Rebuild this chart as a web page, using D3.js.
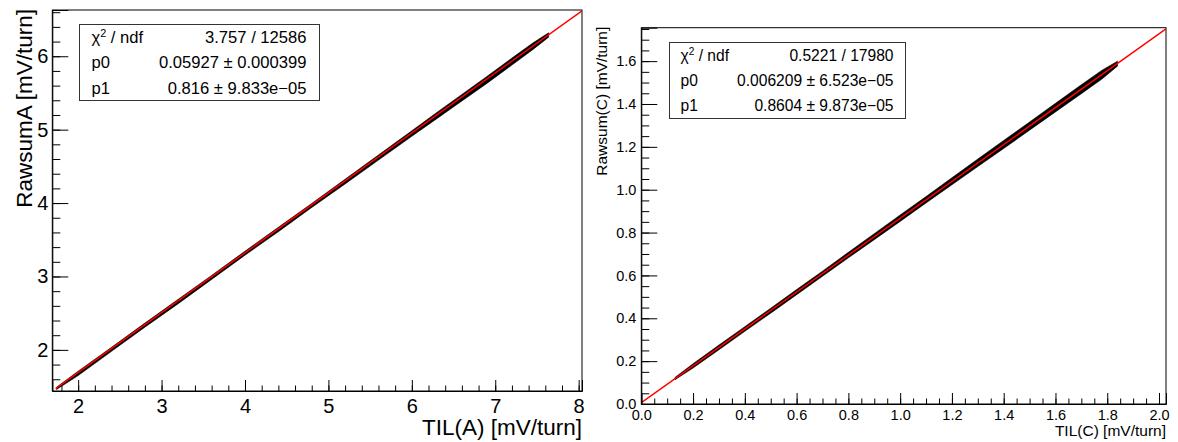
<!DOCTYPE html>
<html>
<head>
<meta charset="utf-8">
<script src="https://cdn.jsdelivr.net/npm/d3@7"></script>
<style>
  html, body { margin: 0; padding: 0; background: #fff; }
  svg { display: block; }
  text { font-family: "Liberation Sans", Arial, Helvetica, sans-serif; fill: #000; }
</style>
</head>
<body>
<svg id="chart" width="1178" height="442"></svg>
<script>
// ---------------- DATA ----------------
// Panel A: band of scatter points (x, lower edge, upper edge)
const tilA      = [1.74, 2.0, 2.4, 2.8, 3.2, 3.6, 4.0, 4.4, 4.8, 5.2, 5.6, 6.0, 6.3, 6.6, 6.9, 7.2, 7.45, 7.64];
const rawsumAHi = [1.49, 1.71, 2.035, 2.365, 2.69, 3.015, 3.345, 3.67, 3.995, 4.325, 4.655, 4.985, 5.235, 5.48, 5.725, 5.975, 6.18, 6.32];
const rawsumALo = [1.46, 1.65, 1.98, 2.31, 2.63, 2.96, 3.29, 3.61, 3.94, 4.26, 4.585, 4.91, 5.15, 5.39, 5.63, 5.88, 6.09, 6.26];
const fitA      = { chi2: "3.757 / 12586", p0: "0.05927 \u00b1 0.000399", p1: "0.816 \u00b1 9.833e\u221205" };
const fitParA   = [0.05927, 0.816];
const fitRangeA = [1.73, 8.04];
const xTicksA   = [2, 3, 4, 5, 6, 7, 8];
const yTicksA   = [2, 3, 4, 5, 6];

// Panel C
const tilC      = [0.13, 0.2, 0.3, 0.4, 0.5, 0.6, 0.7, 0.8, 0.9, 1.0, 1.1, 1.2, 1.3, 1.4, 1.5, 1.6, 1.7, 1.78, 1.84];
const rawsumCHi = [0.124, 0.188, 0.275, 0.361, 0.447, 0.534, 0.620, 0.708, 0.795, 0.882, 0.968, 1.056, 1.143, 1.230, 1.316, 1.403, 1.490, 1.558, 1.60];
const rawsumCLo = [0.113, 0.168, 0.253, 0.339, 0.424, 0.510, 0.596, 0.682, 0.767, 0.852, 0.938, 1.023, 1.108, 1.192, 1.278, 1.363, 1.448, 1.517, 1.577];
const fitC      = { chi2: "0.5221 / 17980", p0: "0.006209 \u00b1 6.523e\u221205", p1: "0.8604 \u00b1 9.873e\u221205" };
const fitParC   = [0.006209, 0.8604];
const fitRangeC = [0.0, 2.027];
const xTicksC   = [0.0, 0.2, 0.4, 0.6, 0.8, 1.0, 1.2, 1.4, 1.6, 1.8, 2.0];
const yTicksC   = [0.0, 0.2, 0.4, 0.6, 0.8, 1.0, 1.2, 1.4, 1.6];

// ---------------- DRAWING ----------------
const svg = d3.select("#chart");
svg.append("rect").attr("width", 1178).attr("height", 442).attr("fill", "#fff");

function panel(cfg) {
  const x = d3.scaleLinear().domain(cfg.xDom).range([cfg.left, cfg.right]);
  const y = d3.scaleLinear().domain(cfg.yDom).range([cfg.bottom, cfg.top]);
  const g = svg.append("g");

  const clipId = "clip" + cfg.id;
  svg.append("clipPath").attr("id", clipId).append("rect")
    .attr("x", cfg.left).attr("y", cfg.top)
    .attr("width", cfg.right - cfg.left).attr("height", cfg.bottom - cfg.top);

  // frame
  g.append("rect").attr("x", cfg.left).attr("y", cfg.top)
    .attr("width", cfg.right - cfg.left).attr("height", cfg.bottom - cfg.top)
    .attr("fill", "none").attr("stroke", "#000").attr("stroke-width", 1);

  // data band
  const band = cfg.xs.map((v, i) => ({ x: v, lo: cfg.lo[i], hi: cfg.hi[i] }));
  g.append("path").datum(band)
    .attr("clip-path", `url(#${clipId})`)
    .attr("d", d3.area().x(d => x(d.x)).y0(d => y(d.lo)).y1(d => y(d.hi)).curve(d3.curveLinear))
    .attr("fill", "#000").attr("stroke", "#000").attr("stroke-width", 0.6);

  // fit line
  const fitPts = cfg.fitRange.map(v => ({ x: v, y: cfg.par[0] + cfg.par[1] * v }));
  g.append("path").datum(fitPts)
    .attr("clip-path", `url(#${clipId})`)
    .attr("d", d3.line().x(d => x(d.x)).y(d => y(d.y)))
    .attr("fill", "none").attr("stroke", "#ff0000").attr("stroke-width", 1.5);

  // axes: minor ticks
  const xMinor = d3.range(cfg.xMinor[0], cfg.xMinor[1] + 1e-9, cfg.xMinor[2]);
  const yMinor = d3.range(cfg.yMinor[0], cfg.yMinor[1] + 1e-9, cfg.yMinor[2]);
  const axMinX = g.append("g").attr("transform", `translate(0,${cfg.bottom})`)
    .call(d3.axisBottom(x).tickValues(xMinor).tickSize(-cfg.xTickLen / 2).tickFormat(""));
  const axMinY = g.append("g").attr("transform", `translate(${cfg.left},0)`)
    .call(d3.axisLeft(y).tickValues(yMinor).tickSize(-cfg.yTickLen / 2).tickFormat(""));
  [axMinX, axMinY].forEach(a => { a.select(".domain").remove(); a.selectAll("line").attr("stroke", "#000"); });

  // major ticks + labels
  const axX = g.append("g").attr("transform", `translate(0,${cfg.bottom})`)
    .call(d3.axisBottom(x).tickValues(cfg.xTicks).tickSize(-cfg.xTickLen).tickPadding(cfg.xPad).tickFormat(cfg.fmt));
  const axY = g.append("g").attr("transform", `translate(${cfg.left},0)`)
    .call(d3.axisLeft(y).tickValues(cfg.yTicks).tickSize(-cfg.yTickLen).tickPadding(cfg.yPad).tickFormat(cfg.fmt));
  [axX, axY].forEach(a => {
    a.select(".domain").attr("stroke", "#000");
    a.selectAll("line").attr("stroke", "#000");
    a.selectAll("text").attr("font-size", cfg.tickFont).attr("font-family", '"Liberation Sans", Arial, sans-serif').attr("fill", "#000");
  });

  // axis titles
  g.append("text").attr("x", cfg.right).attr("y", cfg.xTitleY)
    .attr("text-anchor", "end").attr("font-size", cfg.titleFont).text(cfg.xTitle);
  g.append("text").attr("transform", `translate(${cfg.yTitleX},${cfg.top - 1}) rotate(-90)`)
    .attr("text-anchor", "end").attr("font-size", cfg.titleFont).text(cfg.yTitle);

  // stats box
  const b = cfg.box;
  g.append("rect").attr("x", b.x).attr("y", b.y).attr("width", b.w).attr("height", b.h)
    .attr("fill", "#fff").attr("stroke", "#333").attr("stroke-width", 1);
  const rowH = b.h / 3;
  const rows = [
    { lab: "chi", val: cfg.fit.chi2 },
    { lab: "p0", val: cfg.fit.p0 },
    { lab: "p1", val: cfg.fit.p1 }
  ];
  rows.forEach((r, i) => {
    const cy = b.y + rowH * (i + 0.5) + b.fs * 0.36;
    const t = g.append("text").attr("x", b.x + b.padL).attr("y", cy).attr("font-size", b.fs);
    if (r.lab === "chi") {
      t.append("tspan").text("\u03c7");
      t.append("tspan").attr("font-size", b.fs * 0.65).attr("dy", -b.fs * 0.4).text("2");
      t.append("tspan").attr("dy", b.fs * 0.4).text(" / ndf");
    } else {
      t.text(r.lab);
    }
    g.append("text").attr("x", b.x + b.w - b.padR).attr("y", cy)
      .attr("text-anchor", "end").attr("font-size", b.fs).text(r.val);
  });
}

panel({
  id: "A",
  xDom: [1.69, 8.04], yDom: [1.44, 6.63],
  left: 52.3, right: 582, top: 10, bottom: 391,
  xs: tilA, lo: rawsumALo, hi: rawsumAHi,
  par: fitParA, fitRange: fitRangeA,
  xTicks: xTicksA, yTicks: yTicksA,
  xMinor: [1.8, 8.0, 0.2], yMinor: [1.6, 6.6, 0.2],
  xTickLen: 11, yTickLen: 16,
  xPad: 8, yPad: 4,
  fmt: d3.format("d"),
  tickFont: 20, titleFont: 22.5,
  xTitle: "TIL(A) [mV/turn]", xTitleY: 435,
  yTitle: "RawsumA [mV/turn]", yTitleX: 32,
  fit: fitA,
  box: { x: 79.5, y: 24.5, w: 240, h: 76, fs: 16.6, padL: 12, padR: 13 }
});

panel({
  id: "C",
  xDom: [0, 2.027], yDom: [0, 1.756],
  left: 641.3, right: 1166, top: 27.7, bottom: 404,
  xs: tilC, lo: rawsumCLo, hi: rawsumCHi,
  par: fitParC, fitRange: fitRangeC,
  xTicks: xTicksC, yTicks: yTicksC,
  xMinor: [0.05, 2.0, 0.05], yMinor: [0.05, 1.75, 0.05],
  xTickLen: 11, yTickLen: 16,
  xPad: 6, yPad: 5,
  fmt: d3.format(".1f"),
  tickFont: 14.5, titleFont: 15.5,
  xTitle: "TIL(C) [mV/turn]", xTitleY: 436,
  yTitle: "Rawsum(C) [mV/turn]", yTitleX: 607,
  fit: fitC,
  box: { x: 669.5, y: 42.5, w: 236, h: 76, fs: 15.6, padL: 11, padR: 12 }
});
</script>
</body>
</html>
